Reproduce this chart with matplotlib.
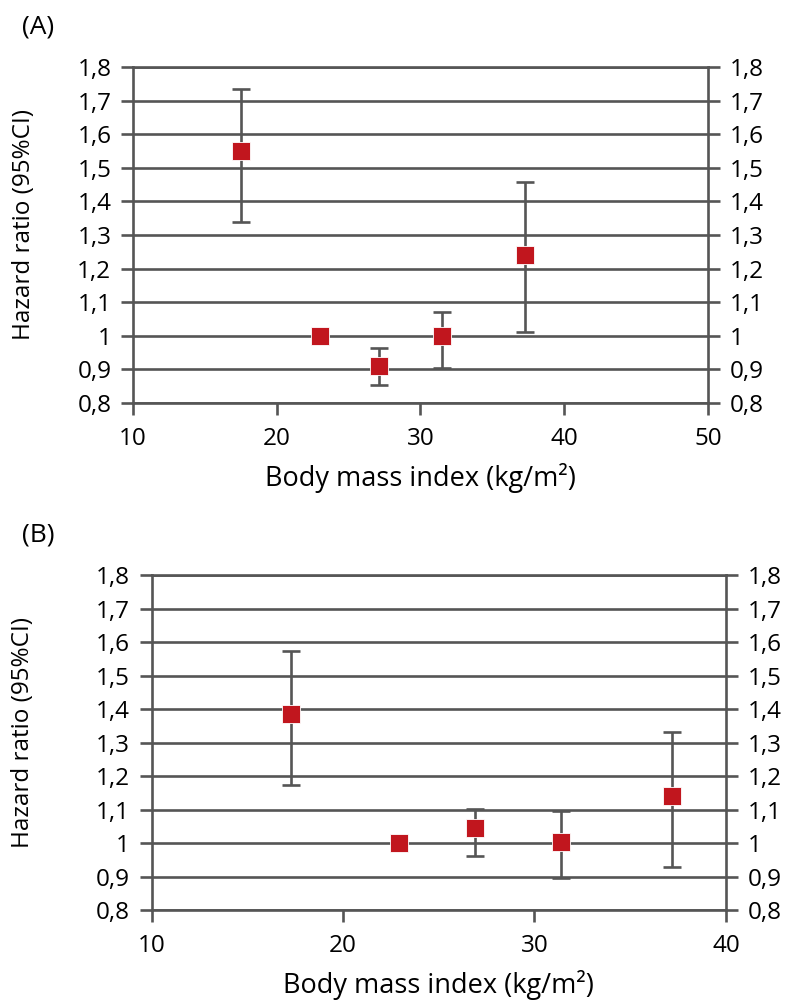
import matplotlib
matplotlib.use("Agg")
import matplotlib.pyplot as plt
import numpy as np
from matplotlib.ticker import FuncFormatter

plt.rcParams['font.family'] = ['Open Sans', 'DejaVu Sans']

# Panel A: BMI category midpoints, hazard ratios and 95% CI
bmi_a = [17.5, 23.0, 27.1, 31.5, 37.3]
hr_a = [1.55, 1.00, 0.91, 1.00, 1.24]
lo_a = [1.34, np.nan, 0.855, 0.905, 1.01]
hi_a = [1.735, np.nan, 0.965, 1.07, 1.458]
xticks_a = [10, 20, 30, 40, 50]

# Panel B
bmi_b = [17.3, 22.9, 26.9, 31.4, 37.2]
hr_b = [1.386, 1.00, 1.044, 1.004, 1.141]
lo_b = [1.173, np.nan, 0.96, 0.895, 0.928]
hi_b = [1.575, np.nan, 1.102, 1.096, 1.331]
xticks_b = [10, 20, 30, 40]

yticks = np.round(np.arange(0.8, 1.81, 0.1), 1)

GRID = '#555555'
RED = '#c1161e'
TICK_FS = 17.5
LW = 1.9


def comma_fmt(v, pos):
    if abs(v - 1.0) < 1e-9:
        return '1'
    return f'{v:.1f}'.replace('.', ',')


def draw_panel(ax, x, hr, lo, hi, xticks):
    x = np.array(x)
    hr = np.array(hr)
    lo = np.array(lo)
    hi = np.array(hi)
    m = ~np.isnan(lo)
    ax.errorbar(x[m], hr[m], yerr=[hr[m] - lo[m], hi[m] - hr[m]], fmt='none',
                ecolor=GRID, elinewidth=LW, capsize=6.8, capthick=LW, zorder=3)
    ax.plot(x, hr, linestyle='none', marker='s', markersize=13,
            markerfacecolor=RED, markeredgecolor='white', markeredgewidth=0.6,
            zorder=4)

    ax.set_xlim(xticks[0], xticks[-1])
    ax.set_ylim(0.8, 1.8)
    ax.set_xticks(xticks)
    ax.set_yticks(yticks)
    ax.yaxis.set_major_formatter(FuncFormatter(comma_fmt))
    ax.grid(axis='y', color=GRID, linewidth=LW, zorder=1)
    ax.set_axisbelow(True)
    for s in ax.spines.values():
        s.set_color(GRID)
        s.set_linewidth(LW)
    ax.tick_params(axis='y', left=True, right=True, labelleft=True, labelright=True,
                   direction='out', length=8.6, width=LW, color=GRID,
                   labelsize=TICK_FS, pad=7)
    ax.tick_params(axis='x', direction='out', length=8.6, width=LW, color=GRID,
                   labelsize=TICK_FS, pad=9)
    ax.set_ylabel('Hazard ratio (95%CI)', fontsize=17.5)
    ax.set_xlabel('Body mass index (kg/m²)', fontsize=19.5, labelpad=8)


fig = plt.figure(figsize=(7.89, 10.05), dpi=100)
ax_a = fig.add_axes([0.1686, 0.599, 0.7287, 0.3343])
ax_b = fig.add_axes([0.1923, 0.0945, 0.7277, 0.3331])

draw_panel(ax_a, bmi_a, hr_a, lo_a, hi_a, xticks_a)
draw_panel(ax_b, bmi_b, hr_b, lo_b, hi_b, xticks_b)

ax_a.yaxis.set_label_coords((36 - 133) / 575, 0.53)
ax_b.yaxis.set_label_coords((35 - 151.7) / 574.3, 0.53)

fig.text(0.028, 0.973, '(A)', fontsize=19, va='center')
fig.text(0.028, 0.468, '(B)', fontsize=19, va='center')

fig.savefig('out.png', dpi=100)
